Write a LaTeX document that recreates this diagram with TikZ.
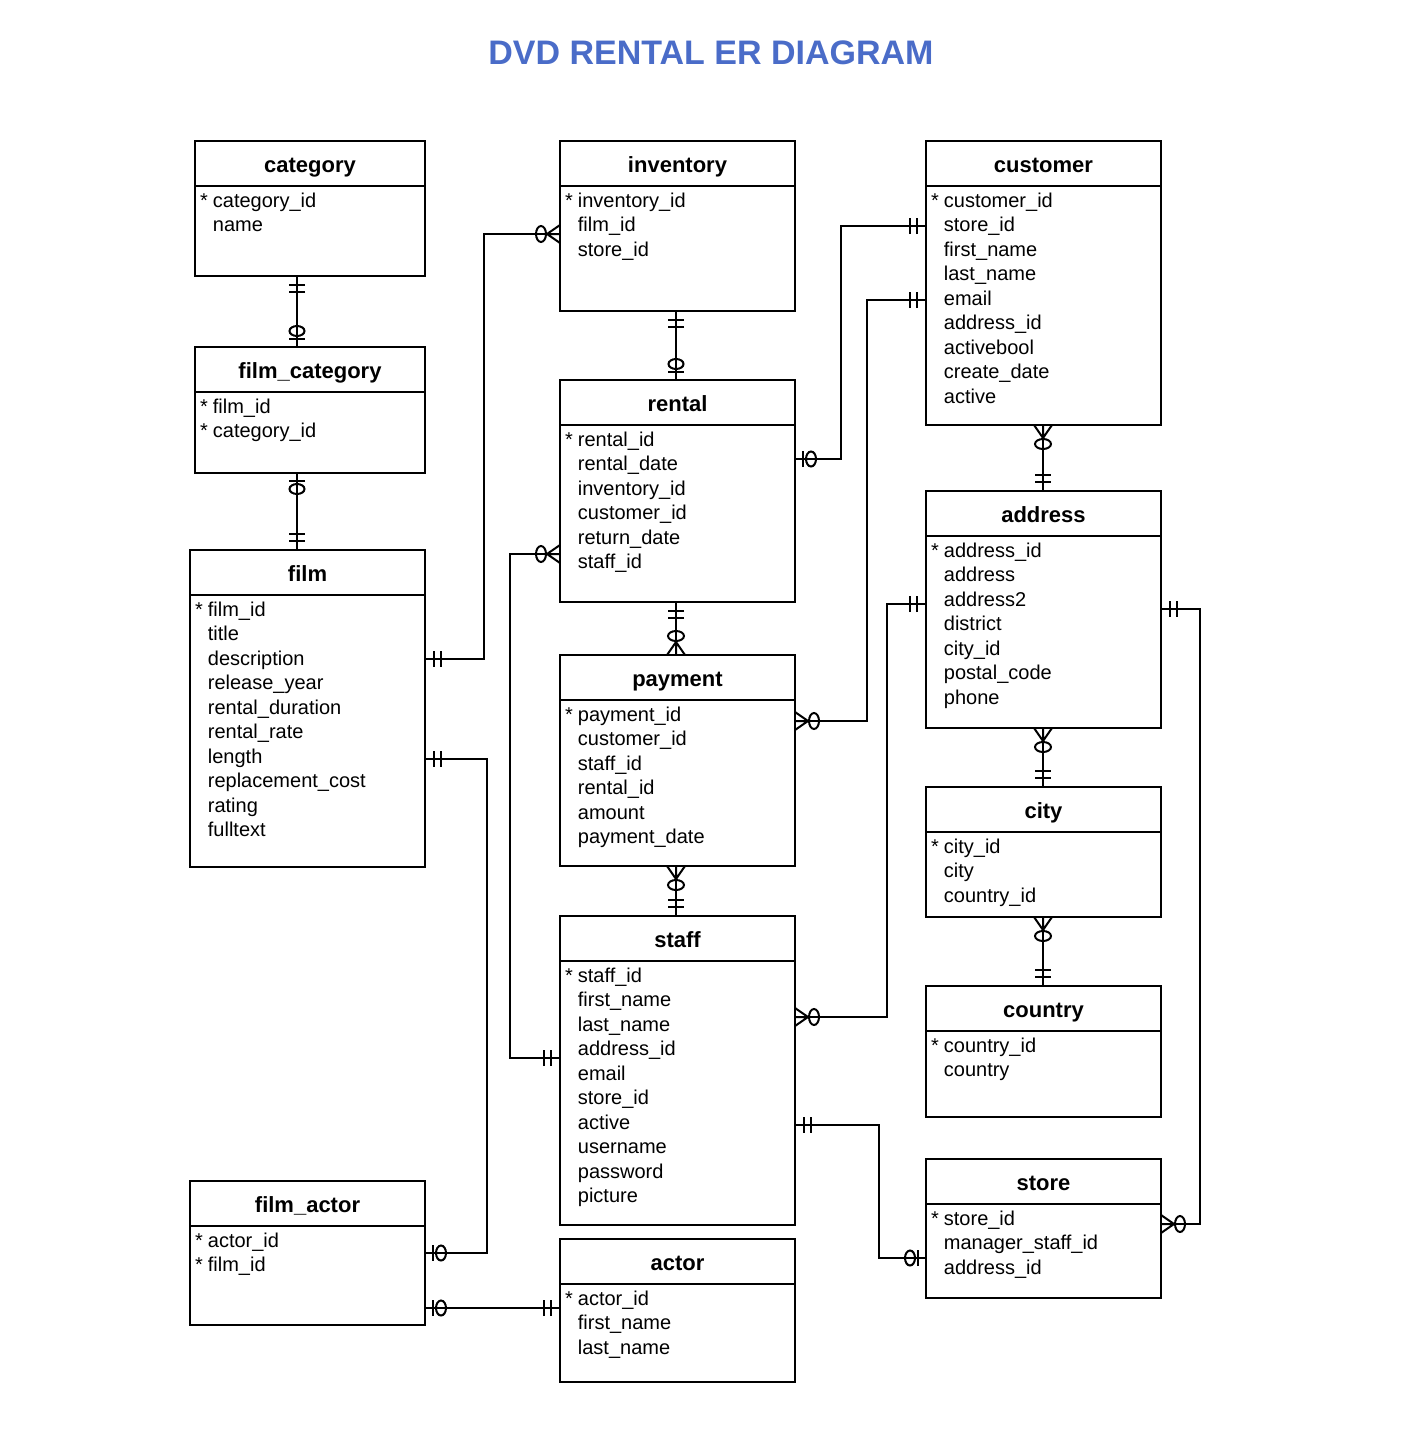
\documentclass[tikz,border=0pt]{standalone}
\usepackage{fontspec}
\setmainfont{Liberation Sans}
\usetikzlibrary{calc,fit}
\definecolor{titleblue}{HTML}{4A6CC8}
\newcommand\erkey{\llap{*\hspace{2.5pt}}}
\newcommand\ertable[7]{%
  \path (#2,#3) coordinate (#1-nw) (#4,#5) coordinate (#1-se);
  \node[tblbox, fit=(#1-nw)(#1-se)] (#1) {};
  \draw[tblline] ($(#1-nw)+(0,45)$) coordinate (#1-hl) -- ($(#1-nw -| #1-se)+(0,45)$) coordinate (#1-hr);
  \node[tblhead] (#1-head) at ($(#1-nw)!0.5!(#1-nw -| #1-se)+(0,31)$) {#6};
  \foreach \f [count=\i] in {#7} {
    \node[tblfield] (#1-f\i) at ($(#1-nw)+(17.5,{66+(\i-1)*24.5})$) {\f};
  }%
}
\begin{document}
\begin{tikzpicture}[x=0.5pt,y=-0.5pt,
  tblbox/.style={draw, line width=1pt, inner sep=0pt, outer sep=0pt, rectangle},
  tblline/.style={line width=1pt},
  tblhead/.style={anchor=base, inner sep=0pt, font=\fontsize{11}{13}\selectfont\bfseries},
  tblfield/.style={anchor=base west, inner sep=0pt, font=\fontsize{10}{12}\selectfont},
  conn/.style={line width=1pt},
  sym/.style={line width=1pt},
  pics/mand/.style={code={\draw[sym] (9,-8)--(9,8) (16,-8)--(16,8);}},
  pics/zone/.style={code={\draw[sym] (8,-8)--(8,8); \draw[sym] (16,0) ellipse [x radius=5, y radius=7.5];}},
  pics/zmany/.style={code={\draw[sym] (0,-9)--(13,0)--(0,9) (0,0)--(13,0); \draw[sym] (19,0) ellipse [x radius=5, y radius=8];}}
]
\useasboundingbox (0,0) rectangle (1420,1434);
\node[anchor=base, inner sep=0pt, font=\fontsize{17}{20}\selectfont\bfseries, text=titleblue] (title) at (711,65) {DVD RENTAL ER DIAGRAM};

\ertable{category}{195}{141}{425}{276}{category}{\erkey category\_id, name}
\ertable{filmcategory}{195}{347}{425}{473}{film\_category}{\erkey film\_id, \erkey category\_id}
\ertable{film}{190}{550}{425}{867}{film}{\erkey film\_id, title, description, release\_year, rental\_duration, rental\_rate, length, replacement\_cost, rating, fulltext}
\ertable{filmactor}{190}{1181}{425}{1325}{film\_actor}{\erkey actor\_id, \erkey film\_id}
\ertable{inventory}{560}{141}{795}{311}{inventory}{\erkey inventory\_id, film\_id, store\_id}
\ertable{rental}{560}{380}{795}{602}{rental}{\erkey rental\_id, rental\_date, inventory\_id, customer\_id, return\_date, staff\_id}
\ertable{payment}{560}{655}{795}{866}{payment}{\erkey payment\_id, customer\_id, staff\_id, rental\_id, amount, payment\_date}
\ertable{staff}{560}{916}{795}{1225}{staff}{\erkey staff\_id, first\_name, last\_name, address\_id, email, store\_id, active, username, password, picture}
\ertable{actor}{560}{1239}{795}{1382}{actor}{\erkey actor\_id, first\_name, last\_name}
\ertable{customer}{926}{141}{1161}{425}{customer}{\erkey customer\_id, store\_id, first\_name, last\_name, email, address\_id, activebool, create\_date, active}
\ertable{address}{926}{491}{1161}{728}{address}{\erkey address\_id, address, address2, district, city\_id, postal\_code, phone}
\ertable{city}{926}{787}{1161}{917}{city}{\erkey city\_id, city, country\_id}
\ertable{country}{926}{986}{1161}{1117}{country}{\erkey country\_id, country}
\ertable{store}{926}{1159}{1161}{1298}{store}{\erkey store\_id, manager\_staff\_id, address\_id}

% 1 category - film_category
\draw[conn] (category.south -| 297,0) coordinate (a1) -- (filmcategory.north -| 297,0) coordinate (b1);
\pic[rotate=-90] at (a1) {mand}; \pic[rotate=90] at (b1) {zone};
% 2 film_category - film
\draw[conn] (filmcategory.south -| 297,0) coordinate (a2) -- (film.north -| 297,0) coordinate (b2);
\pic[rotate=-90] at (a2) {zone}; \pic[rotate=90] at (b2) {mand};
% 3 film - inventory
\draw[conn] (film.east |- 0,659) coordinate (a3) -| (484,234) -- (inventory.west |- 0,234) coordinate (b3);
\pic at (a3) {mand}; \pic[rotate=180] at (b3) {zmany};
% 4 inventory - rental
\draw[conn] (inventory.south -| 676,0) coordinate (a4) -- (rental.north -| 676,0) coordinate (b4);
\pic[rotate=-90] at (a4) {mand}; \pic[rotate=90] at (b4) {zone};
% 5 rental - customer
\draw[conn] (rental.east |- 0,459) coordinate (a5) -| (841,226) -- (customer.west |- 0,226) coordinate (b5);
\pic at (a5) {zone}; \pic[rotate=180] at (b5) {mand};
% 6 payment - customer
\draw[conn] (payment.east |- 0,721) coordinate (a6) -| (867,300) -- (customer.west |- 0,300) coordinate (b6);
\pic at (a6) {zmany}; \pic[rotate=180] at (b6) {mand};
% 7 rental - payment
\draw[conn] (rental.south -| 676,0) coordinate (a7) -- (payment.north -| 676,0) coordinate (b7);
\pic[rotate=-90] at (a7) {mand}; \pic[rotate=90] at (b7) {zmany};
% 8 staff - rental
\draw[conn] (staff.west |- 0,1058) coordinate (a8) -| (510,554) -- (rental.west |- 0,554) coordinate (b8);
\pic[rotate=180] at (a8) {mand}; \pic[rotate=180] at (b8) {zmany};
% 9 payment - staff
\draw[conn] (payment.south -| 676,0) coordinate (a9) -- (staff.north -| 676,0) coordinate (b9);
\pic[rotate=-90] at (a9) {zmany}; \pic[rotate=90] at (b9) {mand};
% 10 customer - address
\draw[conn] (customer.south -| 1043,0) coordinate (a10) -- (address.north -| 1043,0) coordinate (b10);
\pic[rotate=-90] at (a10) {zmany}; \pic[rotate=90] at (b10) {mand};
% 11 staff - address
\draw[conn] (staff.east |- 0,1017) coordinate (a11) -| (887,604) -- (address.west |- 0,604) coordinate (b11);
\pic at (a11) {zmany}; \pic[rotate=180] at (b11) {mand};
% 12 address - store
\draw[conn] (address.east |- 0,609) coordinate (a12) -| (1200,1224) -- (store.east |- 0,1224) coordinate (b12);
\pic at (a12) {mand}; \pic at (b12) {zmany};
% 13 address - city
\draw[conn] (address.south -| 1043,0) coordinate (a13) -- (city.north -| 1043,0) coordinate (b13);
\pic[rotate=-90] at (a13) {zmany}; \pic[rotate=90] at (b13) {mand};
% 14 city - country
\draw[conn] (city.south -| 1043,0) coordinate (a14) -- (country.north -| 1043,0) coordinate (b14);
\pic[rotate=-90] at (a14) {zmany}; \pic[rotate=90] at (b14) {mand};
% 15 staff - store
\draw[conn] (staff.east |- 0,1125) coordinate (a15) -| (879,1258) -- (store.west |- 0,1258) coordinate (b15);
\pic at (a15) {mand}; \pic[rotate=180] at (b15) {zone};
% 16 film - film_actor
\draw[conn] (film.east |- 0,759) coordinate (a16) -| (487,1253) -- (filmactor.east |- 0,1253) coordinate (b16);
\pic at (a16) {mand}; \pic at (b16) {zone};
% 17 film_actor - actor
\draw[conn] (filmactor.east |- 0,1308) coordinate (a17) -- (actor.west |- 0,1308) coordinate (b17);
\pic at (a17) {zone}; \pic[rotate=180] at (b17) {mand};
\end{tikzpicture}
\end{document}
